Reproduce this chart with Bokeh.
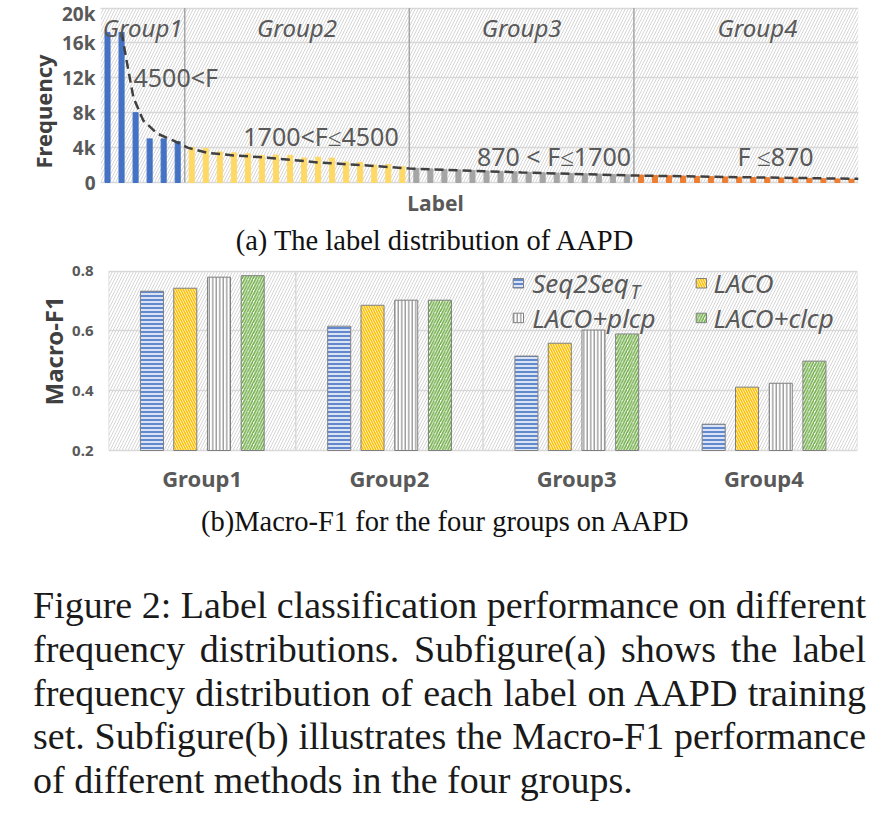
import numpy as np
from bokeh.plotting import figure
from bokeh.models import (FixedTicker, Range1d, FactorRange, BoxAnnotation, Div, Title, ColumnDataSource)
from bokeh.layouts import column
from bokeh.transform import dodge
from bokeh.embed import file_html
from bokeh.resources import INLINE
from bokeh.core.properties import value

FONT = "Noto Sans"
SERIF = "Liberation Serif"
TXT = "#595959"
DARK = "#404040"

# ---------------- data: (a) label distribution ----------------
group_names = ["Group1", "Group2", "Group3", "Group4"]
g1_freq = [17200, 17200, 8000, 5000, 5000, 4700]
g2_freq = [4000, 3900, 3500, 3400, 3300, 3100, 3150, 3100, 2800, 2900, 2800, 2350, 2300, 2000, 2050, 1800]
g3_freq = [1620, 1560, 1500, 1440, 1380, 1320, 1270, 1220, 1170, 1120, 1080, 1040, 1000, 960, 920, 880]
g4_freq = [850, 810, 770, 740, 700, 670, 640, 610, 580, 550, 520, 500, 470, 440, 410, 380]
group_colors = ["#4472c4", "#ffd966", "#a5a5a5", "#ed7d31"]
range_labels = ["4500<F", "1700<F\u22644500", "870 < F\u22641700", "F \u2264870"]
trend_idx = [1.0, 1.4, 1.85, 2.55, 3.55, 4.7, 5.7, 7.1, 9.0, 11.4, 15.0, 18.5, 21.5, 26.8, 29.5, 37.5, 45.5, 53.5]
trend_val = [17200, 13600, 9700, 7100, 5600, 4800, 4000, 3400, 3100, 2850, 2300, 1950, 1600, 1300, 1150, 800, 600, 420]
freq_ticks = [0, 4000, 8000, 12000, 16000, 20000]
freq_tick_labels = ["0", "4k", "8k", "12k", "16k", "20k"]

# ---------------- data: (b) Macro-F1 ----------------
methods = ["Seq2Seq", "LACO", "LACO+plcp", "LACO+clcp"]
seq2seq_t = [0.733, 0.616, 0.516, 0.288]
laco = [0.743, 0.686, 0.559, 0.412]
laco_plcp = [0.780, 0.703, 0.603, 0.425]
laco_clcp = [0.785, 0.703, 0.590, 0.499]
f1_ticks = [0.2, 0.4, 0.6, 0.8]

caption_a = "(a) The label distribution of AAPD"
caption_b = "(b)Macro-F1 for the four groups on AAPD"
caption_lines = [
    "Figure 2: Label classification performance on different",
    "frequency distributions.  Subfigure(a) shows the label",
    "frequency distribution of each label on AAPD training",
    "set. Subfigure(b) illustrates the Macro-F1 performance",
    "of different methods in the four groups.",
]

W = 885

# ================= figure (a) =================
groups_freq = [g1_freq, g2_freq, g3_freq, g4_freq]
tops, cols = [], []
for f, c in zip(groups_freq, group_colors):
    tops += f
    cols += [c] * len(f)
xs = list(range(len(tops)))
n = len(tops)

# layout in page pixels
L1, R1 = 100, 858          # frame left/right
Y0_1, Y20_1 = 182, 7.5     # pixel of 0 and 20k
FT1, FB1, H1 = 4, 257, 257  # frame top/bottom, figure height
ppu1 = (Y0_1 - Y20_1) / 20000
bw1 = (R1 - L1) / n
fx1 = lambda px: (px - L1) / bw1 - 0.5
fy1 = lambda py: (Y0_1 - py) / ppu1

p1 = figure(width=W, height=H1, x_range=Range1d(-0.5, n - 0.5), y_range=Range1d(fy1(FB1), fy1(FT1)),
            output_backend="svg", toolbar_location=None,
            min_border_left=L1, min_border_right=W - R1, min_border_top=FT1, min_border_bottom=H1 - FB1)
p1.frame_align = False
p1.outline_line_color = None
p1.add_layout(BoxAnnotation(bottom=0, top=20000, fill_alpha=0, line_color=None,
                            hatch_pattern="right_diagonal_line", hatch_color="#d6d6d6",
                            hatch_scale=6, hatch_weight=1, level="underlay"))
p1.xgrid.visible = False
p1.ygrid.grid_line_color = "#d9d9d9"
p1.ygrid.grid_line_width = 1.5
p1.xaxis.visible = False
ya = p1.yaxis[0]
ya.ticker = FixedTicker(ticks=freq_ticks)
ya.major_label_overrides = {t: l for t, l in zip(freq_ticks, freq_tick_labels)}
ya.axis_line_color = None
ya.major_tick_line_color = None
ya.major_tick_out = 0
ya.major_tick_in = 0
ya.minor_tick_line_color = None
ya.major_label_text_font = FONT
ya.major_label_text_font_size = "19px"
ya.major_label_text_font_style = "bold"
ya.major_label_text_color = TXT
ya.major_label_standoff = 5
p1.add_layout(Title(text="Frequency", align="left", offset=FB1 - 168, standoff=2, text_font=FONT,
                    text_font_size="22px", text_font_style="bold", text_color=DARK), "left")

src1 = ColumnDataSource(dict(x=xs, top=tops, color=cols))
p1.vbar(x="x", top="top", width=0.36, color="color", source=src1)

cum = np.cumsum([len(g) for g in groups_freq])
sep = [c - 0.5 for c in cum[:-1]]
p1.segment(x0=sep, x1=sep, y0=[0] * len(sep), y1=[20000] * len(sep), line_color="#a6a6a6", line_width=1.5)

p1.line(trend_idx, trend_val, line_dash="9 5", line_width=2.5, line_color=DARK)

starts = np.concatenate([[0], cum[:-1]])
centers = [(s + e - 1) / 2 for s, e in zip(starts, cum)]
gname_x = [centers[0], centers[1], centers[2], centers[3] + 0.8]
p1.text(x=gname_x, y=[fy1(27)] * 4, text=group_names, text_font=value(FONT), text_font_size="24px",
        text_font_style="italic", text_color=TXT, text_align="center", text_baseline="middle")
p1.text(x=[fx1(133)], y=[fy1(76)], text=[range_labels[0]], text_font=value(FONT), text_font_size="25px",
        text_color=TXT, text_align="left", text_baseline="middle")
p1.text(x=[fx1(320.5), fx1(553.5), fx1(775)], y=[fy1(135), fy1(155), fy1(155)], text=range_labels[1:],
        text_font=value(FONT), text_font_size="25px", text_color=TXT, text_align="center",
        text_baseline="middle")
p1.text(x=[fx1(435)], y=[fy1(202)], text=["Label"], text_font=value(FONT), text_font_size="21px",
        text_font_style="bold", text_color=TXT, text_align="center", text_baseline="middle")
p1.text(x=[fx1(435)], y=[fy1(240)], text=[caption_a], text_font=value(SERIF), text_font_size="28.5px",
        text_color="#111111", text_align="center", text_baseline="middle")

# ================= figure (b) =================
L2, R2 = 108, 857
Y08, Y02 = 270.7, 450
TOP2 = H1
FT2, FB2 = TOP2, 544          # page px (frame top/bottom)
H2 = FB2 + 2 - TOP2
ppu2 = (Y02 - Y08) / 0.6
fx2 = lambda px: (px - L2) / ((R2 - L2) / len(group_names))
fy2 = lambda py: 0.8 - (py - Y08) / ppu2

p2 = figure(width=W, height=H2, x_range=FactorRange(*group_names, range_padding=0),
            y_range=Range1d(fy2(FB2), fy2(FT2)), output_backend="svg", toolbar_location=None,
            min_border_left=L2, min_border_right=W - R2, min_border_top=FT2 - TOP2,
            min_border_bottom=TOP2 + H2 - FB2)
p2.frame_align = False
p2.outline_line_color = None
p2.add_layout(BoxAnnotation(bottom=0.2, top=0.8, fill_alpha=0, line_color=None,
                            hatch_pattern="right_diagonal_line", hatch_color="#d6d6d6",
                            hatch_scale=6, hatch_weight=1, level="underlay"))
p2.xgrid.visible = False
p2.xaxis.visible = False
p2.ygrid.grid_line_color = "#d9d9d9"
p2.ygrid.grid_line_width = 1.5
edges = list(range(len(group_names) + 1))
p2.segment(x0=edges, x1=edges, y0=[0.2] * len(edges), y1=[0.8] * len(edges), line_color="#d9d9d9",
           line_width=1.5)

ya2 = p2.yaxis[0]
ya2.ticker = FixedTicker(ticks=f1_ticks)
ya2.axis_line_color = None
ya2.major_tick_line_color = None
ya2.major_tick_out = 0
ya2.major_tick_in = 0
ya2.minor_tick_line_color = None
ya2.major_label_text_font = FONT
ya2.major_label_text_font_size = "15px"
ya2.major_label_text_font_style = "bold"
ya2.major_label_text_color = TXT
ya2.major_label_standoff = 15
p2.add_layout(Title(text="Macro-F1", align="left", offset=FB2 - 405, standoff=0, text_font=FONT,
                    text_font_size="24px", text_font_style="bold", text_color=DARK), "left")

src2 = ColumnDataSource(dict(g=group_names, s=seq2seq_t, l=laco, p=laco_plcp, c=laco_clcp))
styles = [
    ("s", -0.268, dict(fill_color="#dae3f3", hatch_pattern="horizontal_line", hatch_color="#4472c4",
                       hatch_scale=4, hatch_weight=1.6)),
    ("l", -0.09, dict(fill_color="white", hatch_pattern="left_diagonal_line", hatch_color="#ffc000",
                      hatch_scale=5, hatch_weight=1.6)),
    ("p", 0.09, dict(fill_color="white", hatch_pattern="vertical_line", hatch_color="#7f7f7f",
                     hatch_scale=3.5, hatch_weight=1.1)),
    ("c", 0.27, dict(fill_color="white", hatch_pattern="right_diagonal_line", hatch_color="#70ad47",
                     hatch_scale=5.5, hatch_weight=1.6)),
]
for key, off, st in styles:
    p2.vbar(x=dodge("g", off, range=p2.x_range), top=key, bottom=0.2, width=0.123, source=src2,
            line_color="#7f7f7f", line_width=1, **st)

p2.text(x=group_names, y=[fy2(477)] * 4, text=group_names, text_font=value(FONT), text_font_size="22px",
        text_font_style="bold", text_color=TXT, text_align="center", text_baseline="middle")

# manual legend
leg_cols = [(512.7, 531.7), (695.7, 713)]
leg_rows = [(278, 282.5), (312.7, 317)]
for k, (key, off, st) in enumerate(styles):
    (sx, tx), (sy, ty) = leg_cols[k % 2], leg_rows[k // 2]
    p2.quad(left=[fx2(sx)], right=[fx2(sx + 10.3)], top=[fy2(sy)], bottom=[fy2(sy + 9.5)],
            line_color="#7f7f7f", line_width=1, **st)
    p2.text(x=[fx2(tx)], y=[fy2(ty)], text=[methods[k]], text_font=value(FONT), text_font_size="26px",
            text_font_style="italic", text_color=TXT, text_align="left", text_baseline="middle")
p2.text(x=[fx2(630)], y=[fy2(291)], text=["T"], text_font=value(FONT), text_font_size="19px",
        text_font_style="italic", text_color=TXT, text_align="left", text_baseline="middle")

p2.text(x=[fx2(445)], y=[fy2(521)], text=[caption_b], text_font=value(SERIF), text_font_size="28.5px",
        text_color="#111111", text_align="center", text_baseline="middle")

# ================= caption =================
lines_html = "".join(
    f'<div style="text-align:justify;text-align-last:justify;white-space:nowrap">{l}</div>'
    for l in caption_lines[:-1]) + f'<div style="white-space:nowrap">{caption_lines[-1]}</div>'
pad = 584 - (H1 + H2)
div_c = Div(text=(f'<div style="padding-top:{pad}px;margin-left:33px;width:833px;font-family:\'{SERIF}\';'
                  f'font-size:38px;line-height:43.75px;color:#1a1a1a">{lines_html}</div>'),
            width=W, height=820 - H1 - H2, margin=0)

layout = column(p1, p2, div_c, spacing=0)
open("out.html", "w").write(file_html(layout, INLINE))
